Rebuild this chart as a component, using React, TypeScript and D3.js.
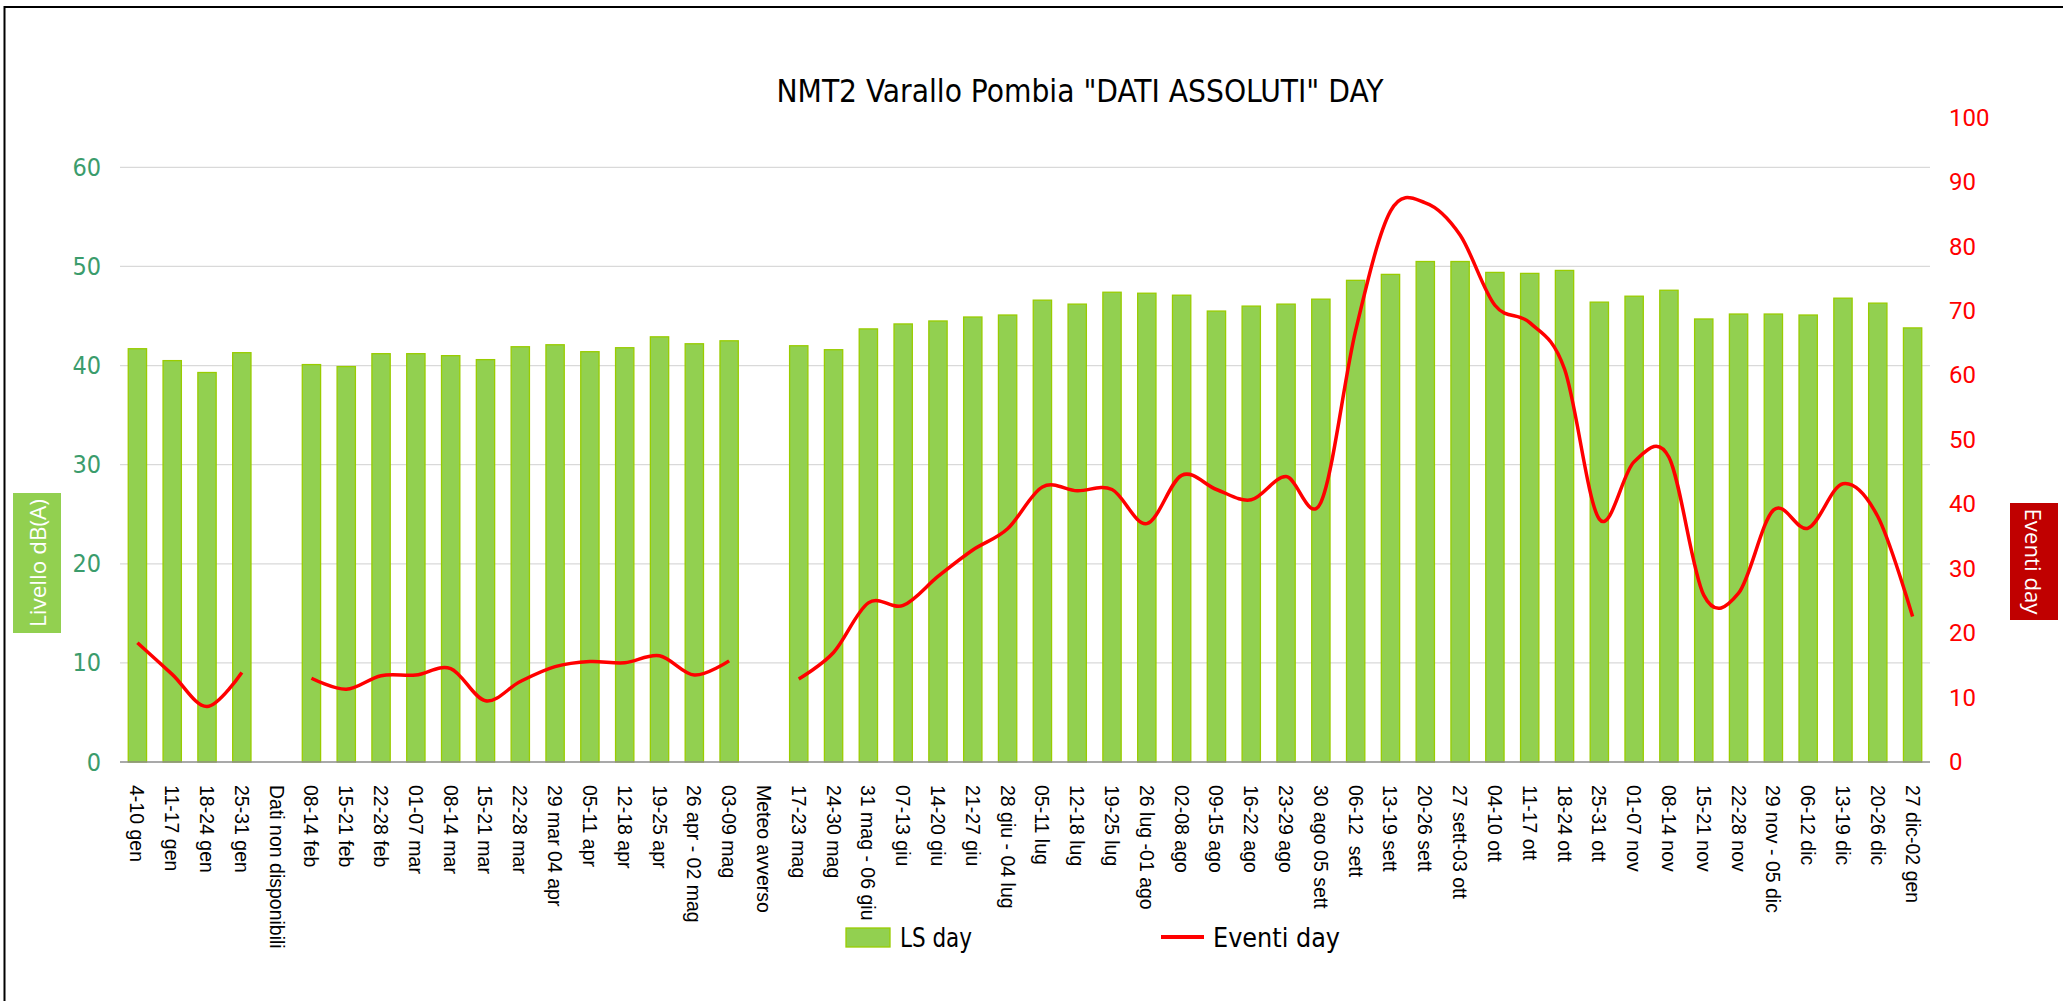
import React from "react";
import * as d3 from "d3";

// categorie (settimane)
const categories = [
  "4-10 gen", "11-17 gen", "18-24 gen", "25-31 gen", "Dati non disponibili",
  "08-14 feb", "15-21 feb", "22-28 feb", "01-07 mar", "08-14 mar", "15-21 mar",
  "22-28 mar", "29 mar 04 apr", "05-11 apr", "12-18 apr", "19-25 apr",
  "26 apr - 02 mag", "03-09 mag", "Meteo avverso", "17-23 mag", "24-30 mag",
  "31 mag - 06 giu", "07-13 giu", "14-20 giu", "21-27 giu", "28 giu - 04 lug",
  "05-11 lug", "12-18 lug", "19-25 lug", "26 lug -01 ago", "02-08 ago",
  "09-15 ago", "16-22 ago", "23-29 ago", "30 ago 05 sett", "06-12  sett",
  "13-19 sett", "20-26 sett", "27 sett-03 ott", "04-10 ott", "11-17 ott",
  "18-24 ott", "25-31 ott", "01-07 nov", "08-14 nov", "15-21 nov", "22-28 nov",
  "29 nov - 05 dic", "06-12 dic", "13-19 dic", "20-26 dic", "27 dic-02 gen",
];

// LS day, dB(A) (asse sinistro)
const lsDay: (number | null)[] = [
  41.7, 40.5, 39.3, 41.3, null,
  40.1, 39.9, 41.2, 41.2, 41.0, 40.6,
  41.9, 42.1, 41.4, 41.8, 42.9,
  42.2, 42.5, null, 42.0, 41.6,
  43.7, 44.2, 44.5, 44.9, 45.1,
  46.6, 46.2, 47.4, 47.3, 47.1,
  45.5, 46.0, 46.2, 46.7, 48.6,
  49.2, 50.5, 50.5, 49.4, 49.3,
  49.6, 46.4, 47.0, 47.6, 44.7, 45.2,
  45.2, 45.1, 46.8, 46.3, 43.8,
];

// Eventi day (asse destro)
const eventiDay: (number | null)[] = [
  18.5, 13.6, 8.6, 13.9, null,
  13.0, 11.3, 13.4, 13.5, 14.5, 9.5,
  12.5, 14.8, 15.6, 15.4, 16.5,
  13.5, 15.7, null, 12.9, 17.0,
  24.7, 24.3, 28.8, 32.9, 36.2,
  42.7, 42.1, 42.3, 37.0, 44.5,
  42.3, 40.7, 44.3, 40.3, 67.0,
  85.5, 86.8, 81.8, 70.9, 68.2,
  61.0, 37.7, 46.6, 47.3, 25.9, 26.2,
  39.1, 36.3, 43.2, 38.1, 22.6,
];

const leftTicks = [0, 10, 20, 30, 40, 50, 60];
const rightTicks = [0, 10, 20, 30, 40, 50, 60, 70, 80, 90, 100];

const W = 2063;
const H = 1001;
const plot = { left: 120, right: 1930, top: 117.8, bottom: 762 };

const narrow = "'Liberation Sans Narrow', 'DejaVu Sans Condensed', 'Liberation Sans', sans-serif";

export default function App() {
  const x = d3
    .scaleBand<number>()
    .domain(categories.map((_, i) => i))
    .range([plot.left, plot.right])
    .paddingInner(0.474)
    .paddingOuter(0.237);

  const yL = d3.scaleLinear().domain([0, 65]).range([plot.bottom, plot.top]);
  const yR = d3.scaleLinear().domain([0, 100]).range([plot.bottom, plot.top]);

  const cx = (i: number) => (x(i) as number) + x.bandwidth() / 2;

  const line = d3
    .line<number | null>()
    .defined((d) => d != null)
    .x((_, i) => cx(i))
    .y((d) => yR(d as number))
    .curve(d3.curveCardinal.tension(0));

  return (
    <svg
      width={W}
      height={H}
      style={{ position: "absolute", left: 0, top: 0, background: "#fff" }}
    >
      <rect x={0} y={0} width={W} height={H} fill="#fff" />
      {/* bordo */}
      <path d={`M4.5,${H} V7 H${W}`} fill="none" stroke="#000" strokeWidth={2} />

      {/* titolo */}
      <text
        x={1080}
        y={102}
        textAnchor="middle"
        fontFamily={narrow}
        fontSize={32}
        textLength={607}
        lengthAdjust="spacingAndGlyphs"
        fill="#000"
      >
        NMT2 Varallo Pombia "DATI ASSOLUTI" DAY
      </text>

      {/* griglia */}
      {leftTicks.slice(1).map((t) => (
        <line
          key={t}
          x1={plot.left}
          x2={plot.right}
          y1={yL(t)}
          y2={yL(t)}
          stroke="#d9d9d9"
          strokeWidth={1.3}
        />
      ))}

      {/* barre */}
      {lsDay.map((v, i) =>
        v == null ? null : (
          <rect
            key={i}
            x={x(i)}
            y={yL(v)}
            width={x.bandwidth()}
            height={yL(0) - yL(v)}
            fill="#92d050"
            stroke="#99cc00"
            strokeWidth={1.3}
          />
        )
      )}

      {/* asse x */}
      <line x1={plot.left} x2={plot.right} y1={plot.bottom} y2={plot.bottom} stroke="#8c8c8c" strokeWidth={1.3} />

      {/* linea eventi */}
      <path d={line(eventiDay) || ""} fill="none" stroke="#ff0000" strokeWidth={3.5} strokeLinejoin="round" />

      {/* etichette asse sinistro */}
      {leftTicks.map((t) => (
        <text
          key={t}
          x={101}
          y={yL(t)}
          textAnchor="end"
          dominantBaseline="central"
          fontFamily={narrow}
          fontSize={25}
          fill="#3b9c6c"
        >
          {t}
        </text>
      ))}

      {/* etichette asse destro */}
      {rightTicks.map((t) => (
        <text
          key={t}
          x={1949}
          y={yR(t)}
          textAnchor="start"
          dominantBaseline="central"
          fontFamily="Roboto, sans-serif"
          fontSize={24}
          fill="#ff0000"
        >
          {t}
        </text>
      ))}

      {/* etichette categorie */}
      {categories.map((c, i) => (
        <text
          key={i}
          transform={`translate(${cx(i)},785) rotate(90)`}
          dominantBaseline="central"
          fontFamily="'Liberation Sans', Arial, sans-serif"
          fontSize={19.5}
          fill="#000"
          style={{ whiteSpace: "pre" }}
        >
          {c}
        </text>
      ))}

      {/* titoli assi */}
      <rect x={13} y={493} width={48} height={140} fill="#92d050" />
      <text
        transform="translate(37,563) rotate(-90)"
        textAnchor="middle"
        dominantBaseline="central"
        fontFamily="'Open Sans', sans-serif"
        fontSize={22}
        fill="#fff"
        textLength={128}
        lengthAdjust="spacingAndGlyphs"
      >
        Livello dB(A)
      </text>

      <rect x={2010} y={503} width={48} height={117} fill="#c00000" />
      <text
        transform="translate(2034,561.5) rotate(90)"
        textAnchor="middle"
        dominantBaseline="central"
        fontFamily="'Open Sans', sans-serif"
        fontSize={22}
        fill="#fff"
        textLength={106}
        lengthAdjust="spacingAndGlyphs"
      >
        Eventi day
      </text>

      {/* legenda */}
      <rect x={846} y={928} width={44} height={19} fill="#92d050" stroke="#99cc00" strokeWidth={1.3} />
      <text
        x={900}
        y={947}
        fontFamily={narrow}
        fontSize={26}
        textLength={72}
        lengthAdjust="spacingAndGlyphs"
        fill="#000"
      >
        LS day
      </text>
      <line x1={1161} x2={1204} y1={937} y2={937} stroke="#ff0000" strokeWidth={4} />
      <text
        x={1213}
        y={947}
        fontFamily={narrow}
        fontSize={26}
        textLength={127}
        lengthAdjust="spacingAndGlyphs"
        fill="#000"
      >
        Eventi day
      </text>
    </svg>
  );
}
